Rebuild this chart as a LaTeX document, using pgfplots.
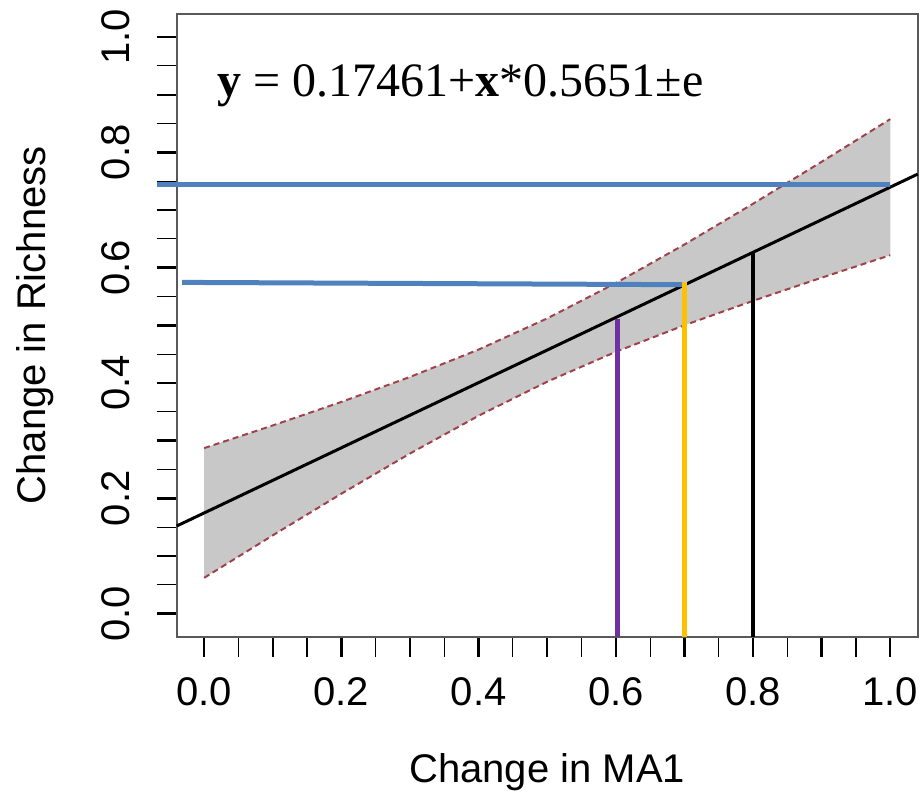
\documentclass[border=0pt]{standalone}
\usepackage{fontspec}
\setmainfont{Liberation Sans}
\newfontfamily\eqfont{Liberation Serif}
\usepackage{pgfplots}
\pgfplotsset{compat=1.18}

\definecolor{bandgray}{RGB}{200,200,200}
\definecolor{banddash}{RGB}{160,65,75}
\definecolor{lineblue}{RGB}{79,129,189}
\definecolor{linepurple}{RGB}{112,48,160}
\definecolor{lineorange}{RGB}{255,192,0}

\begin{document}
\begin{tikzpicture}
\begin{axis}[%
    at={(0,0)}, anchor=south west,
    scale only axis,
    width=370.5pt, height=311.35pt,
    xmin=-0.04, xmax=1.04,
    ymin=-0.04, ymax=1.04,
    clip=false,
    axis line style={draw=black!65, line width=1pt},
    tick align=outside,
    xtick pos=bottom, ytick pos=left,
    xtick={0,0.1,0.2,0.3,0.4,0.5,0.6,0.7,0.8,0.9,1.0},
    xticklabels={0.0,,0.2,,0.4,,0.6,,0.8,,1.0},
    minor xtick={0.05,0.15,0.25,0.35,0.45,0.55,0.65,0.75,0.85,0.95},
    ytick={0,0.1,0.2,0.3,0.4,0.5,0.6,0.7,0.8,0.9,1.0},
    yticklabels={0.0,,0.2,,0.4,,0.6,,0.8,,1.0},
    minor ytick={0.05,0.15,0.25,0.35,0.45,0.55,0.65,0.75,0.85,0.95},
    major tick length=10pt, minor tick length=10pt,
    major tick style={black, line width=1.2pt},
    minor tick style={black, line width=0.6pt},
    tick label style={font=\fontsize{20}{24}\selectfont},
    xticklabel style={anchor=north, yshift=-7pt},
    yticklabel style={rotate=90, anchor=south, yshift=10pt},
    label style={font=\fontsize{20}{24}\selectfont},
    xlabel={Change in MA1},
    ylabel={Change in Richness},
    xlabel style={at={(axis description cs:0.5,-0.2174)}, anchor=center},
    ylabel style={at={(axis description cs:-0.1916,0.5)}, anchor=center},
  ]
% confidence band
\addplot[fill=bandgray, draw=none] coordinates {
  (0.0,0.2871) (0.1,0.3264) (0.2,0.3672) (0.3,0.4105) (0.4,0.4580)
  (0.5,0.5121) (0.6,0.5733) (0.7,0.6402) (0.8,0.7109) (0.9,0.7837) (1.0,0.8577)
  (1.0,0.6217) (0.9,0.5827) (0.8,0.5425) (0.7,0.5002) (0.6,0.4541)
  (0.5,0.4023) (0.4,0.3432) (0.3,0.2777) (0.2,0.2080) (0.1,0.1358) (0.0,0.0621)
} -- cycle;
\addplot[banddash, line width=1pt, dash pattern=on 3pt off 2pt] coordinates {
  (0.0,0.2871) (0.1,0.3264) (0.2,0.3672) (0.3,0.4105) (0.4,0.4580)
  (0.5,0.5121) (0.6,0.5733) (0.7,0.6402) (0.8,0.7109) (0.9,0.7837) (1.0,0.8577)
};
\addplot[banddash, line width=1pt, dash pattern=on 3pt off 2pt] coordinates {
  (0.0,0.0621) (0.1,0.1358) (0.2,0.2080) (0.3,0.2777) (0.4,0.3432)
  (0.5,0.4023) (0.6,0.4541) (0.7,0.5002) (0.8,0.5425) (0.9,0.5827) (1.0,0.6217)
};
% fitted line
\addplot[black, line width=1.5pt] coordinates {(-0.04,0.1520) (1.04,0.7623)};
% horizontal guides
\addplot[lineblue, line width=2.5pt] coordinates {(-0.068,0.744) (1.0,0.744)};
\addplot[lineblue, line width=2.5pt] coordinates {(-0.032,0.5745) (0.702,0.5705)};
% vertical guides
\addplot[linepurple, line width=2.5pt] coordinates {(0.602,-0.04) (0.602,0.511)};
\addplot[lineorange, line width=2.5pt] coordinates {(0.70,-0.04) (0.70,0.5745)};
\addplot[black, line width=2.2pt] coordinates {(0.80,-0.04) (0.80,0.627)};
\node[anchor=base west, inner sep=0pt, font=\eqfont\fontsize{24}{28}\selectfont]
  at (axis cs:0.019,0.897) {\textbf{y} = 0.17461+\textbf{x}*0.5651±e};
\end{axis}
\pgfresetboundingbox
\path (-88.35pt,-81.15pt) rectangle (373.15pt,318.35pt);
\end{tikzpicture}
\end{document}
